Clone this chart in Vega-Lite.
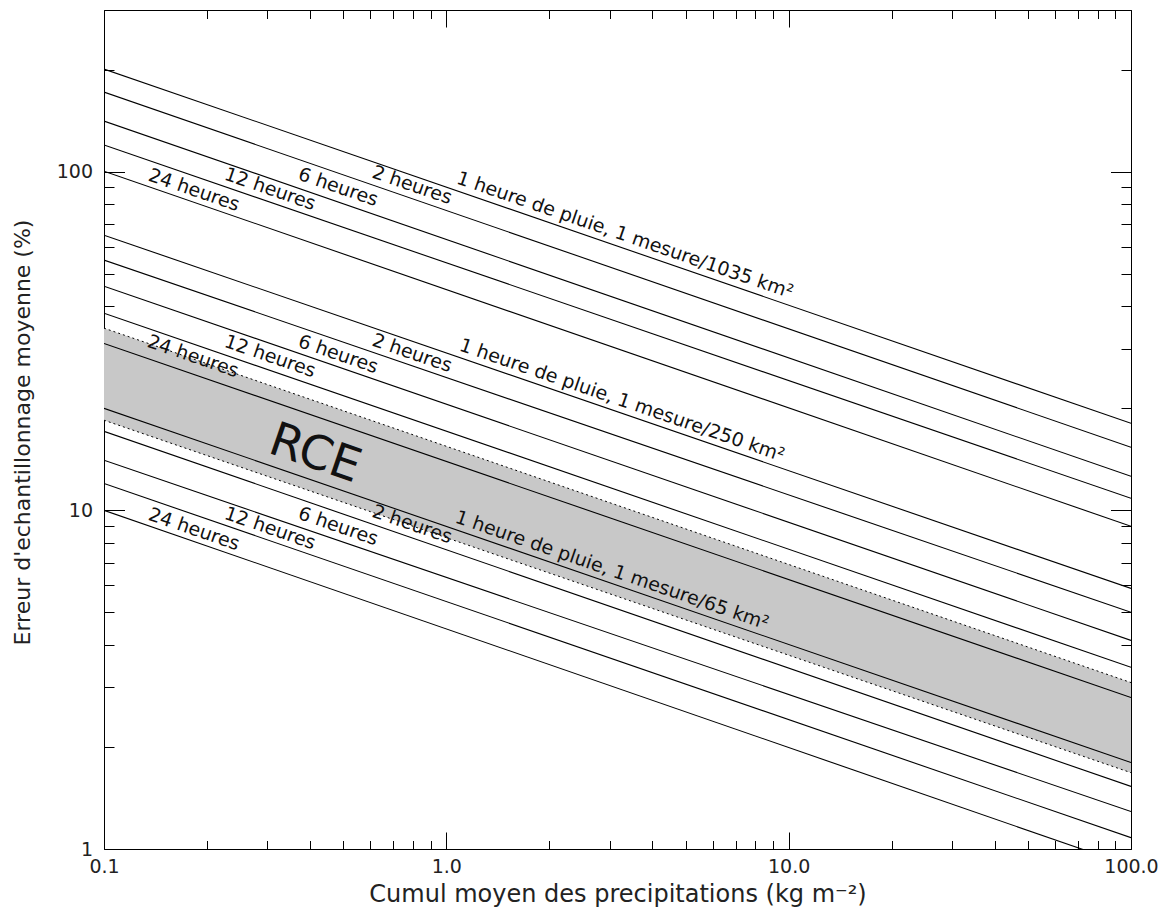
{
  "$schema": "https://vega.github.io/schema/vega-lite/v6.json",
  "width": 1027,
  "height": 839,
  "autosize": {"type": "none"},
  "padding": {"left": 104, "top": 10, "right": 36, "bottom": 62},
  "background": "white",
  "config": {"view": {"stroke": null}, "font": "DejaVu Sans"},
  "datasets": {
    "lines": [
      {"s": "1035-1h", "x": 0.1, "y": 200.8}, {"s": "1035-1h", "x": 100, "y": 18.07},
      {"s": "1035-2h", "x": 0.1, "y": 171.7}, {"s": "1035-2h", "x": 100, "y": 15.35},
      {"s": "1035-6h", "x": 0.1, "y": 141.0}, {"s": "1035-6h", "x": 100, "y": 12.6},
      {"s": "1035-12h", "x": 0.1, "y": 119.8}, {"s": "1035-12h", "x": 100, "y": 10.85},
      {"s": "1035-24h", "x": 0.1, "y": 100.3}, {"s": "1035-24h", "x": 100, "y": 8.97},
      {"s": "250-1h", "x": 0.1, "y": 64.9}, {"s": "250-1h", "x": 100, "y": 5.88},
      {"s": "250-2h", "x": 0.1, "y": 54.8}, {"s": "250-2h", "x": 100, "y": 5.0},
      {"s": "250-6h", "x": 0.1, "y": 45.9}, {"s": "250-6h", "x": 100, "y": 4.13},
      {"s": "250-12h", "x": 0.1, "y": 38.2}, {"s": "250-12h", "x": 100, "y": 3.44},
      {"s": "250-24h", "x": 0.1, "y": 31.1}, {"s": "250-24h", "x": 100, "y": 2.8},
      {"s": "65-1h", "x": 0.1, "y": 20.0}, {"s": "65-1h", "x": 100, "y": 1.8},
      {"s": "65-2h", "x": 0.1, "y": 17.1}, {"s": "65-2h", "x": 100, "y": 1.53},
      {"s": "65-6h", "x": 0.1, "y": 14.05}, {"s": "65-6h", "x": 100, "y": 1.29},
      {"s": "65-12h", "x": 0.1, "y": 12.0}, {"s": "65-12h", "x": 100, "y": 1.08},
      {"s": "65-24h", "x": 0.1, "y": 10.0}, {"s": "65-24h", "x": 100, "y": 0.89}
    ],
    "band": [
      {"x": 0.1, "hi": 34.5, "lo": 18.45},
      {"x": 100, "hi": 3.1, "lo": 1.68}
    ],
    "labels": [
      {"x": 3.327, "y": 64.9, "t": "1 heure de pluie, 1 mesure/1035 km²"},
      {"x": 0.794, "y": 91.2, "t": "2 heures"},
      {"x": 0.483, "y": 90.0, "t": "6 heures"},
      {"x": 0.3055, "y": 88.8, "t": "12 heures"},
      {"x": 0.1832, "y": 88.2, "t": "24 heures"},
      {"x": 3.261, "y": 21.13, "t": "1 heure de pluie, 1 mesure/250 km²"},
      {"x": 0.794, "y": 29.1, "t": "2 heures"},
      {"x": 0.483, "y": 28.9, "t": "6 heures"},
      {"x": 0.3055, "y": 28.5, "t": "12 heures"},
      {"x": 0.182, "y": 28.5, "t": "24 heures"},
      {"x": 3.049, "y": 6.65, "t": "1 heure de pluie, 1 mesure/65 km²"},
      {"x": 0.794, "y": 9.09, "t": "2 heures"},
      {"x": 0.483, "y": 8.97, "t": "6 heures"},
      {"x": 0.3055, "y": 8.85, "t": "12 heures"},
      {"x": 0.1832, "y": 8.79, "t": "24 heures"}
    ],
    "rce": [{"x": 0.4135, "y": 14.64, "t": "RCE"}]
  },
  "layer": [
    {
      "data": {"name": "band"},
      "mark": {"type": "area", "color": "#c8c8c8", "clip": true},
      "encoding": {
        "x": {
          "field": "x", "type": "quantitative",
          "scale": {"type": "log", "domain": [0.1, 100], "nice": false},
          "axis": {
            "orient": "bottom",
            "values": [0.1,0.2,0.3,0.4,0.5,0.6,0.7,0.8,0.9,1,2,3,4,5,6,7,8,9,10,20,30,40,50,60,70,80,90,100],
            "tickSize": {"condition": {"test": "datum.value == 0.1 || datum.value == 1 || datum.value == 10 || datum.value == 100", "value": -17}, "value": -8.5},
            "labelExpr": "datum.value == 0.1 ? '0.1' : datum.value == 1 ? '1.0' : datum.value == 10 ? '10.0' : datum.value == 100 ? '100.0' : ''",
            "labelPadding": 25,
            "labelFontSize": 19,
            "labelColor": "#222",
            "labelFont": "DejaVu Sans",
            "labelFlush": false,
            "labelOverlap": false,
            "grid": false,
            "domainColor": "black",
            "tickColor": "black",
            "title": "Cumul moyen des precipitations (kg m⁻²)",
            "titleFont": "DejaVu Sans",
            "titleFontSize": 24,
            "titleFontWeight": "normal",
            "titleColor": "#222",
            "titleY": 45,
            "titleBaseline": "middle"
          }
        },
        "y": {
          "field": "hi", "type": "quantitative",
          "scale": {"type": "log", "domain": [1, 300], "nice": false},
          "axis": {
            "orient": "left",
            "values": [1,2,3,4,5,6,7,8,9,10,20,30,40,50,60,70,80,90,100,200,300],
            "tickSize": {"condition": {"test": "datum.value == 1 || datum.value == 10 || datum.value == 100", "value": -20.5}, "value": -10},
            "labelExpr": "datum.value == 1 ? '1' : datum.value == 10 ? '10' : datum.value == 100 ? '100' : ''",
            "labelPadding": 32,
            "labelFontSize": 19,
            "labelColor": "#222",
            "labelFont": "DejaVu Sans",
            "labelFlush": false,
            "labelOverlap": false,
            "grid": false,
            "domainColor": "black",
            "tickColor": "black",
            "title": "Erreur d'echantillonnage moyenne (%)",
            "titleFont": "DejaVu Sans",
            "titleFontSize": 22,
            "titleFontWeight": "normal",
            "titleColor": "#222",
            "titleX": -82,
            "titleY": 422,
            "titleAlign": "center",
            "titleBaseline": "middle"
          }
        },
        "y2": {"field": "lo"}
      }
    },
    {
      "data": {"name": "band"},
      "mark": {"type": "line", "color": "black", "strokeWidth": 1, "strokeDash": [2, 3], "clip": true},
      "encoding": {
        "x": {"field": "x", "type": "quantitative", "scale": {"type": "log", "domain": [0.1, 100], "nice": false}, "axis": null},
        "y": {"field": "hi", "type": "quantitative", "scale": {"type": "log", "domain": [1, 300], "nice": false}, "axis": null}
      }
    },
    {
      "data": {"name": "band"},
      "mark": {"type": "line", "color": "black", "strokeWidth": 1, "strokeDash": [2, 3], "clip": true},
      "encoding": {
        "x": {"field": "x", "type": "quantitative", "scale": {"type": "log", "domain": [0.1, 100], "nice": false}, "axis": null},
        "y": {"field": "lo", "type": "quantitative", "scale": {"type": "log", "domain": [1, 300], "nice": false}, "axis": null}
      }
    },
    {
      "data": {"name": "lines"},
      "mark": {"type": "line", "color": "black", "strokeWidth": 1.1, "clip": true},
      "encoding": {
        "x": {"field": "x", "type": "quantitative", "scale": {"type": "log", "domain": [0.1, 100], "nice": false}, "axis": null},
        "y": {"field": "y", "type": "quantitative", "scale": {"type": "log", "domain": [1, 300], "nice": false}, "axis": null},
        "detail": {"field": "s", "type": "nominal"}
      }
    },
    {
      "data": {"name": "labels"},
      "mark": {"type": "text", "angle": 19, "fontSize": 19, "font": "DejaVu Sans", "color": "#111", "align": "center", "baseline": "middle"},
      "encoding": {
        "x": {"field": "x", "type": "quantitative", "scale": {"type": "log", "domain": [0.1, 100], "nice": false}, "axis": null},
        "y": {"field": "y", "type": "quantitative", "scale": {"type": "log", "domain": [1, 300], "nice": false}, "axis": null},
        "text": {"field": "t", "type": "nominal"}
      }
    },
    {
      "data": {"name": "rce"},
      "mark": {"type": "text", "angle": 19, "fontSize": 47, "font": "DejaVu Sans", "color": "#111", "align": "center", "baseline": "middle"},
      "encoding": {
        "x": {"field": "x", "type": "quantitative", "scale": {"type": "log", "domain": [0.1, 100], "nice": false}, "axis": null},
        "y": {"field": "y", "type": "quantitative", "scale": {"type": "log", "domain": [1, 300], "nice": false}, "axis": null},
        "text": {"field": "t", "type": "nominal"}
      }
    },
    {
      "data": {"name": "band"},
      "mark": {"type": "point", "opacity": 0},
      "encoding": {
        "x": {
          "field": "x", "type": "quantitative",
          "scale": {"type": "log", "domain": [0.1, 100], "nice": false},
          "axis": {
            "orient": "top",
            "values": [0.1,0.2,0.3,0.4,0.5,0.6,0.7,0.8,0.9,1,2,3,4,5,6,7,8,9,10,20,30,40,50,60,70,80,90,100],
            "tickSize": {"condition": {"test": "datum.value == 0.1 || datum.value == 1 || datum.value == 10 || datum.value == 100", "value": -17}, "value": -8.5},
            "labels": false,
            "grid": false,
            "title": null,
            "domainColor": "black",
            "tickColor": "black"
          }
        },
        "y": {
          "field": "hi", "type": "quantitative",
          "scale": {"type": "log", "domain": [1, 300], "nice": false},
          "axis": {
            "orient": "right",
            "values": [1,2,3,4,5,6,7,8,9,10,20,30,40,50,60,70,80,90,100,200,300],
            "tickSize": {"condition": {"test": "datum.value == 1 || datum.value == 10 || datum.value == 100", "value": -20.5}, "value": -10},
            "labels": false,
            "grid": false,
            "title": null,
            "domainColor": "black",
            "tickColor": "black"
          }
        }
      }
    }
  ],
  "resolve": {"axis": {"x": "independent", "y": "independent"}}
}
